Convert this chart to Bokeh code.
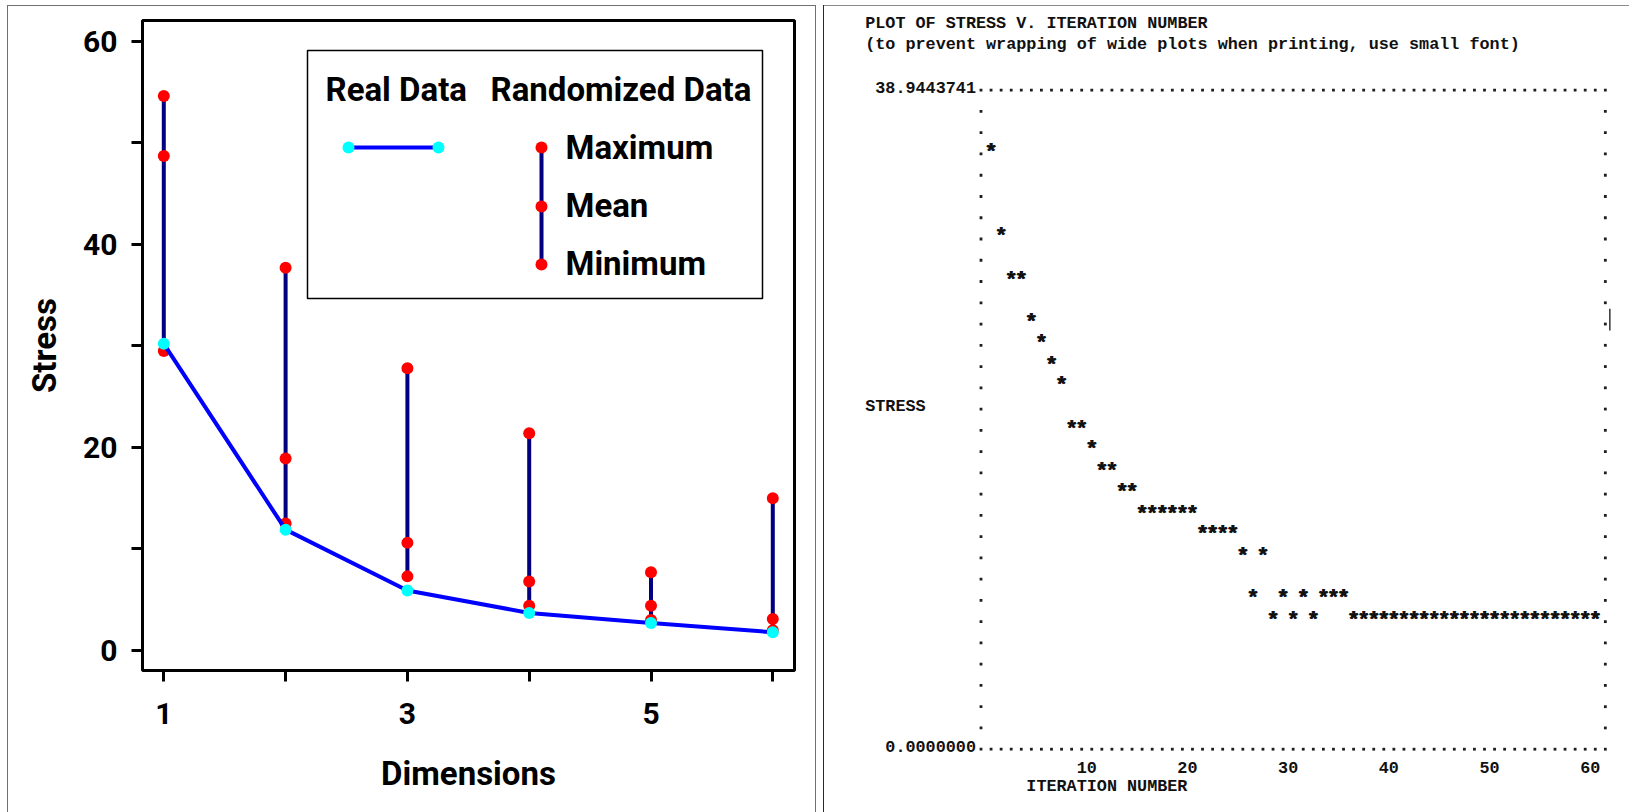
from bokeh.plotting import figure
from bokeh.layouts import row
from bokeh.models import FixedTicker, Range1d
from bokeh.embed import file_html
from bokeh.resources import INLINE
from bokeh.core.properties import value

# ---------------- data: left panel (stress by dimensionality) ----------------
dimensions = [1, 2, 3, 4, 5, 6]
real_stress = [30.2, 11.9, 5.9, 3.7, 2.7, 1.8]
rand_max = [54.6, 37.7, 27.8, 21.4, 7.7, 15.0]
rand_mean = [48.7, 18.9, 10.6, 6.8, 4.4, 3.1]
rand_min = [29.5, 12.5, 7.3, 4.4, 3.0, 2.0]
x_tick_values = [1, 2, 3, 4, 5, 6]
x_tick_labels = ["1", "", "3", "", "5", ""]
y_tick_values = [0, 10, 20, 30, 40, 50, 60]
y_tick_labels = ["0", "", "20", "", "40", "", "60"]

# ---------------- data: right panel (stress v. iteration, printer plot) ----------------
iterations = list(range(61))
iter_stress = [35.2, 30.2, 27.6, 27.6, 25.1, 23.9, 22.6, 21.4, 18.8, 18.8,
               17.6, 16.3, 16.3, 15.1, 15.1, 13.8, 13.8, 13.8, 13.8, 13.8,
               13.8, 12.6, 12.6, 12.6, 12.6, 11.3, 8.8, 11.3, 7.5, 8.8,
               7.5, 8.8, 7.5, 8.8, 8.8, 8.8, 7.5, 7.5, 7.5, 7.5,
               7.5, 7.5, 7.5, 7.5, 7.5, 7.5, 7.5, 7.5, 7.5, 7.5,
               7.5, 7.5, 7.5, 7.5, 7.5, 7.5, 7.5, 7.5, 7.5, 7.5, 7.5]
stress_axis_max = 38.9443741
stress_axis_max_label = "38.9443741"
stress_axis_min_label = "0.0000000"
iter_tick_values = [10, 20, 30, 40, 50, 60]
title_line = "PLOT OF STRESS V. ITERATION NUMBER"
subtitle_line = "(to prevent wrapping of wide plots when printing, use small font)"

# =============================== LEFT PANEL ===============================
SANS = "Roboto"
LW, LH = 819, 812
FL, FR, FT, FB = 142, 794, 20, 670          # frame in canvas px
XPU = 121.8                                 # px per dimension
YPU = 10.155                                # px per stress unit
X0 = 1 - (163.3 - FL) / XPU
X1 = X0 + (FR - FL) / XPU
Y1 = (650 - FT) / YPU
Y0 = Y1 - (FB - FT) / YPU


def fx(px):
    return X0 + (px - FL) / XPU


def fy(py):
    return Y1 - (py - FT) / YPU


p1 = figure(width=LW, height=LH, x_range=Range1d(X0, X1), y_range=Range1d(Y0, Y1),
            output_backend="svg", toolbar_location=None,
            min_border_left=FL, min_border_right=LW - FR,
            min_border_top=FT, min_border_bottom=LH - FB)
p1.frame_align = False
p1.grid.visible = False
p1.outline_line_color = "black"
p1.outline_line_width = 3
p1.background_fill_color = "white"
p1.border_fill_color = None
p1.styles = {
    "background-image": "linear-gradient(#707070,#707070),linear-gradient(#707070,#707070),linear-gradient(#707070,#707070)",
    "background-size": "1px 812px, 809px 1px, 1px 812px",
    "background-position": "7px 5px, 7px 5px, 815px 5px",
    "background-repeat": "no-repeat",
}

p1.xaxis.ticker = FixedTicker(ticks=x_tick_values)
p1.yaxis.ticker = FixedTicker(ticks=y_tick_values)
p1.xaxis.major_label_overrides = {v: l for v, l in zip(x_tick_values, x_tick_labels)}
p1.yaxis.major_label_overrides = {v: l for v, l in zip(y_tick_values, y_tick_labels)}
for ax in (p1.xaxis[0], p1.yaxis[0]):
    ax.axis_line_color = None
    ax.minor_tick_line_color = None
    ax.major_tick_line_color = "black"
    ax.major_tick_line_width = 3
    ax.major_tick_in = 0
    ax.major_tick_out = 11
    ax.major_label_text_font = SANS
    ax.major_label_text_font_style = "bold"
    ax.major_label_text_font_size = "30px"
    ax.major_label_text_color = "black"
    ax.axis_label_text_font = SANS
    ax.axis_label_text_font_style = "bold"
    ax.axis_label_text_font_size = "33px"
    ax.axis_label_text_color = "black"
p1.xaxis.axis_label = "Dimensions"
p1.yaxis.axis_label = "Stress"
p1.xaxis.major_label_standoff = 21
p1.yaxis.major_label_standoff = 14
p1.xaxis.axis_label_standoff = 27
p1.yaxis.axis_label_standoff = 16

# randomized data ranges
p1.segment(x0=dimensions, y0=rand_min, x1=dimensions, y1=rand_max,
           line_color="#000080", line_width=4)
for ser in (rand_max, rand_mean, rand_min):
    p1.scatter(dimensions, ser, size=12, fill_color="#ff0000", line_color="#ff0000", line_width=0)
# real data
p1.line(dimensions, real_stress, line_color="#0000ff", line_width=4)
p1.scatter(dimensions, real_stress, size=12, fill_color="#00ffff", line_color="#00ffff", line_width=0)

# legend (drawn by hand)
p1.quad(left=[fx(307)], right=[fx(762)], top=[fy(50)], bottom=[fy(298)],
        fill_color="white", line_color="black", line_width=1.5)
leg_font = dict(text_font=value(SANS), text_font_style="bold", text_font_size="33px",
                text_color="black", text_align="left", text_baseline="alphabetic", y_offset=-12.5)
p1.text(x=[fx(325), fx(490)], y=[fy(101), fy(101)], text=["Real Data", "Randomized Data"], **leg_font)
p1.line([fx(348), fx(438)], [fy(147), fy(147)], line_color="#0000ff", line_width=4)
p1.scatter([fx(348), fx(438)], [fy(147), fy(147)], size=12, fill_color="#00ffff",
           line_color="#00ffff", line_width=0)
p1.segment(x0=[fx(541)], y0=[fy(147)], x1=[fx(541)], y1=[fy(264)], line_color="#000080", line_width=4)
p1.scatter([fx(541)] * 3, [fy(147), fy(206), fy(264)], size=12, fill_color="#ff0000",
           line_color="#ff0000", line_width=0)
p1.text(x=[fx(565)] * 3, y=[fy(159), fy(217.5), fy(275.5)], text=["Maximum", "Mean", "Minimum"], **leg_font)

# =============================== RIGHT PANEL ===============================
MONO = "Liberation Mono"
RW, RH = 810, 812
OX = LW                       # page x of right canvas
COLW = 10.07                  # px per printer column
PY_TOP, PY_BOT = 89.7, 748.7  # rows of the max / zero stress lines
SPU = (PY_BOT - PY_TOP) / stress_axis_max
NROWS = 31
ROW = stress_axis_max / NROWS


def kx(X):
    return (X - 980.5) / COLW - 1


def sy(py):
    return (PY_BOT - py) / SPU


def row_s(r):
    return ROW * (NROWS - r)


p2 = figure(width=RW, height=RH, x_range=Range1d(kx(OX), kx(OX + RW)),
            y_range=Range1d(sy(RH), sy(0)), output_backend="svg", toolbar_location=None,
            x_axis_location=None, y_axis_location=None,
            min_border_left=0, min_border_right=0, min_border_top=0, min_border_bottom=0)
p2.frame_align = False
p2.grid.visible = False
p2.outline_line_color = None
p2.background_fill_color = None
p2.border_fill_color = None
p2.styles = {
    "background-image": "linear-gradient(#2a2a2a,#2a2a2a),linear-gradient(#8a8a8a,#8a8a8a)",
    "background-size": "1px 812px, 806px 1px",
    "background-position": "4px 5px, 4px 5px",
    "background-repeat": "no-repeat",
}

# dotted frame: columns 0..62 (iteration -1..61), rows 0..31
frame_k = list(range(-1, 62))
dot_x = frame_k + frame_k
dot_y = [row_s(0)] * len(frame_k) + [row_s(NROWS)] * len(frame_k)
for r in range(1, NROWS):
    dot_x += [-1, 61]
    dot_y += [row_s(r), row_s(r)]
p2.scatter(dot_x, dot_y, marker="square", size=2.8, fill_color="#1e1e1e", line_color=None)

# stars (printed twice, a pixel apart, for the heavy printer look)
for dx in (-0.4, 0.5):
    p2.text(x=iterations, y=iter_stress, text=["*"] * len(iterations), text_font=value(MONO),
            text_font_style="bold", text_font_size="22px", text_color="#111111",
            text_align="center", text_baseline="alphabetic", y_offset=-0.5, x_offset=dx)

mono = dict(text_font=value(MONO), text_font_style="bold", text_font_size="16.8px",
            text_color="#111111", text_baseline="alphabetic", y_offset=-3)
# titles and axis names (left aligned at printer column -11 / 5)
p2.text(x=[-12.5, -12.5, -12.5], y=[row_s(-3), row_s(-2), row_s(15)],
        text=[title_line, subtitle_line, "STRESS"], text_align="left", **mono)
p2.text(x=[3.5], y=[row_s(33)], text=["ITERATION NUMBER"], text_align="left",
        text_font=value(MONO), text_font_style="bold", text_font_size="16.8px",
        text_color="#111111", text_baseline="alphabetic", y_offset=-5)
# stress axis end labels, right aligned before the frame
p2.text(x=[-1.5, -1.5], y=[row_s(0), row_s(NROWS)],
        text=[stress_axis_max_label, stress_axis_min_label], text_align="right", **mono)
# iteration tick labels, right aligned on their column
p2.text(x=[v + 0.5 for v in iter_tick_values], y=[row_s(32)] * len(iter_tick_values),
        text=[str(v) for v in iter_tick_values], text_align="right", **mono)
# text caret left on the page
p2.segment(x0=[61.45], y0=[row_s(11) - 0.3 * ROW], x1=[61.45], y1=[row_s(11) + 0.72 * ROW],
           line_color="black", line_width=1.2)

layout = row(p1, p2)
open("out.html", "w").write(file_html(layout, INLINE))
